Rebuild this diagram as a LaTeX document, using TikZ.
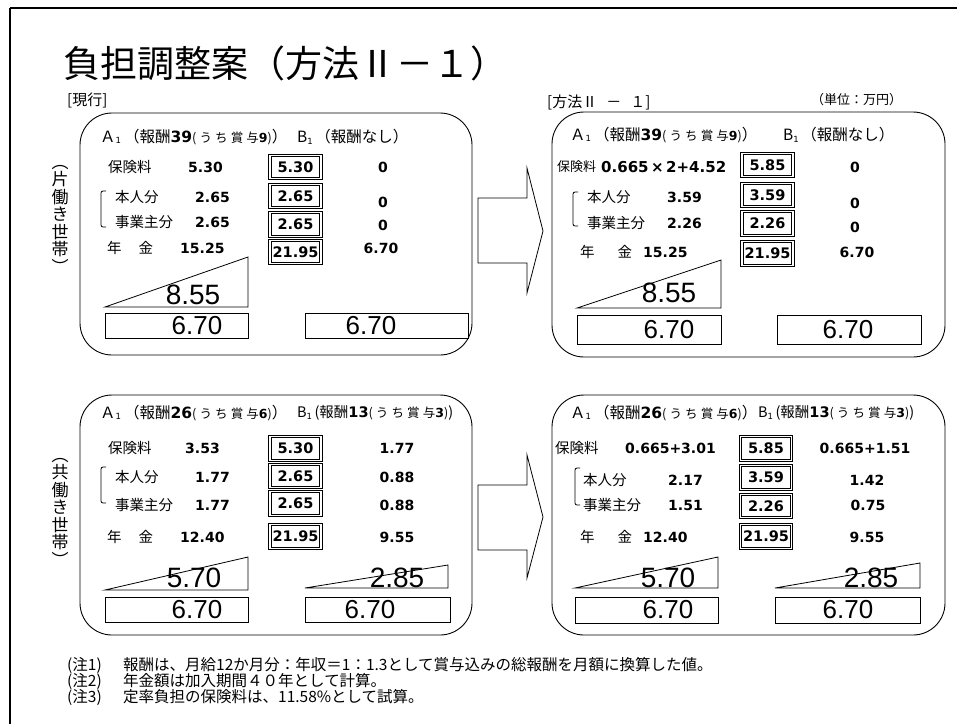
\documentclass[tikz,border=0pt]{standalone}
\usepackage{fontspec}
\setmainfont{Noto Sans CJK JP}
\newfontfamily\numfont{DejaVu Sans}
\newfontfamily\bigfont{Liberation Sans}
\newfontfamily\widefont[LetterSpace=25]{Noto Sans CJK JP}

% column headings of a panel
\newcommand{\bnum}[1]{{\numfont\bfseries #1}}
\newcommand{\subone}{\raisebox{-1.5pt}{\fontsize{8.5}{8.5}\selectfont\numfont 1}}
\newcommand{\pay}[2]{報酬\bnum{#1}{\fontsize{12.5}{12.5}\widefont (うち賞与\bnum{#2})}}
\newcommand{\headA}[2]{Ａ\subone\hspace{3pt}（\pay{#1}{#2}）}
\newcommand{\headB}[1]{B\subone\,（#1）}
\newcommand{\headBB}[1]{B\subone\,(#1)}

\begin{document}
\begin{tikzpicture}[
            x=1pt, y=-1pt,
            panel/.style={
                draw=black,
                line width=0.9pt,
                rounded corners=32pt,
                inner sep=0pt
            },
            heading/.style={
                inner sep=0pt,
                anchor=west,
                font=\fontsize{15.5}{17}\selectfont
            },
            rowlbl/.style={
                inner sep=0pt,
                anchor=west,
                font=\fontsize{14.5}{16}\selectfont
            },
            val/.style={
                inner sep=0pt,
                anchor=west,
                font=\fontsize{14}{16}\numfont\bfseries
            },
            bval/.style={
                inner sep=0pt,
                font=\fontsize{14}{16}\numfont\bfseries
            },
            valbox/.style={
                draw=black,
                double,
                double distance=1.2pt,
                line width=1.1pt,
                minimum width=51pt,
                minimum height=23.5pt,
                inner sep=0pt,
                font=\fontsize{14.5}{16}\numfont\bfseries
            },
            sumbox/.style={draw=black, line width=0.8pt, inner sep=0pt},
            bignum/.style={inner sep=0pt, font=\fontsize{28}{28}\bigfont},
            sumnum/.style={inner sep=0pt, font=\fontsize{26}{26}\bigfont},
            wedge/.style={draw=black, line width=0.8pt},
            bkt/.style={line width=0.8pt, rounded corners=2pt},
            blockarrow/.style={draw=black, line width=0.8pt},
            sidelbl/.style={inner sep=0pt, align=center, font=\fontsize{17}{17.5}\selectfont},
            note/.style={inner sep=0pt, anchor=west, font=\fontsize{15.5}{17}\selectfont}
        ]
        \useasboundingbox (0,0) rectangle (957,724);

        % page frame
        \draw[line width=2pt] (10,724) -- (10,8);
        \draw[line width=1.2pt] (10,8) -- (957,8);

        % title and captions
        \node[heading, font=\fontsize{37}{40}\selectfont] (ttl) at (63,63) {負担調整案（方法Ⅱ－１）};
        \node[heading, font=\fontsize{15}{16}\selectfont] (now) at (67,100) {[現行]};
        \node[heading, font=\fontsize{15}{16}\selectfont] (plan) at (547,102) {[方法Ⅱ\hspace{9pt}－\hspace{9pt}１]};
        \node[heading, font=\fontsize{13}{15}\selectfont] (unit) at (811,100) {（単位：万円）};

        % side labels
        \node[sidelbl] (side1) at (60,219) {︵\\片\\働\\き\\世\\帯\\︶};
        \node[sidelbl] (side2) at (60,512) {︵\\共\\働\\き\\世\\帯\\︶};

        % panels
        \node[panel, minimum width=392pt, minimum height=242pt] (cur1) at (276,234) {};
        \node[panel, minimum width=393pt, minimum height=245pt] (new1) at (748.5,234.5) {};
        \node[panel, minimum width=392pt, minimum height=240pt] (cur2) at (276,515) {};
        \node[panel, minimum width=393pt, minimum height=240pt] (new2) at (748.5,515) {};

        % block arrows
        \draw[blockarrow] (478,198) -- (527,198) -- (527,168) -- (543,231)
            -- (527,293) -- (527,263) -- (478,263) -- cycle;
        \draw[blockarrow] (478,485) -- (527,485) -- (527,455) -- (543,517)
            -- (527,578) -- (527,550) -- (478,550) -- cycle;

        % top left: current, single earner
        \node[heading] (cur1-ha) at (100,137) {\headA{39}{9}};
        \node[heading] (cur1-hb) at (297,137) {\headB{報酬なし}};
        \node[rowlbl] (cur1-l1) at (108,167) {保険料};
        \node[val] (cur1-a1) at (188,167) {5.30};
        \node[rowlbl] (cur1-l2) at (115,197) {本人分};
        \node[val] (cur1-a2) at (195,197) {2.65};
        \node[rowlbl] (cur1-l3) at (115,222) {事業主分};
        \node[val] (cur1-a3) at (195,222) {2.65};
        \node[rowlbl] (cur1-l4) at (107,248) {年\hspace{17pt}金};
        \node[val] (cur1-a4) at (180,248) {15.25};
        \node[valbox] (cur1-v1) at (295.5,167) {5.30};
        \node[valbox] (cur1-v2) at (295.5,196) {2.65};
        \node[valbox] (cur1-v3) at (295.5,224.5) {2.65};
        \node[valbox] (cur1-v4) at (295.5,252) {21.95};
        \node[bval] (cur1-b1) at (383,167) {0};
        \node[bval] (cur1-b2) at (383,202) {0};
        \node[bval] (cur1-b3) at (383,225) {0};
        \node[bval] (cur1-b4) at (381,248) {6.70};
        \draw[bkt] (106,191) -- (101,191) -- (101,227) -- (106,227);
        \draw[wedge] (105,307) -- (248,307) -- (248,257) -- cycle;
        \node[bignum] (cur1-t) at (193,295) {8.55};
        \node[sumbox, minimum width=143pt, minimum height=25pt] (cur1-sa) at (176.5,325.5) {};
        \node[sumnum] (cur1-na) at (197,326) {6.70};
        \node[sumbox, minimum width=163pt, minimum height=25pt] (cur1-sb) at (386.5,325.5) {};
        \node[sumnum] (cur1-nb) at (371,326) {6.70};

        % top right: plan II-1, single earner
        \node[heading] (new1-ha) at (570,135) {\headA{39}{9}};
        \node[heading] (new1-hb) at (783,135) {\headB{報酬なし}};
        \node[rowlbl, font=\fontsize{13}{15}\selectfont] (new1-l1) at (557,167) {保険料};
        \node[val, font=\fontsize{15}{16}\numfont\bfseries] (new1-a1) at (601,167) {0.665\,×\,2+4.52};
        \node[rowlbl] (new1-l2) at (587,197) {本人分};
        \node[val] (new1-a2) at (667,197) {3.59};
        \node[rowlbl] (new1-l3) at (587,223) {事業主分};
        \node[val] (new1-a3) at (667,223) {2.26};
        \node[rowlbl] (new1-l4) at (580,252) {年\hspace{23pt}金};
        \node[val] (new1-a4) at (643,252) {15.25};
        \node[valbox] (new1-v1) at (767.5,165) {5.85};
        \node[valbox] (new1-v2) at (767.5,195) {3.59};
        \node[valbox] (new1-v3) at (767.5,223.5) {2.26};
        \node[valbox] (new1-v4) at (767.5,253.5) {21.95};
        \node[bval] (new1-b1) at (855,167) {0};
        \node[bval] (new1-b2) at (855,203) {0};
        \node[bval] (new1-b3) at (855,227) {0};
        \node[bval] (new1-b4) at (857,252) {6.70};
        \draw[bkt] (578,192) -- (573,192) -- (573,226) -- (578,226);
        \draw[wedge] (577,308) -- (721,308) -- (721,260) -- cycle;
        \node[bignum] (new1-t) at (669,293) {8.55};
        \node[sumbox, minimum width=144pt, minimum height=29pt] (new1-sa) at (649,330) {};
        \node[sumnum] (new1-na) at (669,330) {6.70};
        \node[sumbox, minimum width=144pt, minimum height=29pt] (new1-sb) at (849,330) {};
        \node[sumnum] (new1-nb) at (848,330) {6.70};

        % bottom left: current, dual earners
        \node[heading] (cur2-ha) at (100,413) {\headA{26}{6}};
        \node[heading, font=\fontsize{14.5}{16}\selectfont] (cur2-hb) at (297,413) {\headBB{\pay{13}{3}}};
        \node[rowlbl] (cur2-l1) at (108,448) {保険料};
        \node[val] (cur2-a1) at (185,448) {3.53};
        \node[rowlbl] (cur2-l2) at (115,477) {本人分};
        \node[val] (cur2-a2) at (195,477) {1.77};
        \node[rowlbl] (cur2-l3) at (115,505) {事業主分};
        \node[val] (cur2-a3) at (195,505) {1.77};
        \node[rowlbl] (cur2-l4) at (107,537) {年\hspace{17pt}金};
        \node[val] (cur2-a4) at (180,537) {12.40};
        \node[valbox] (cur2-v1) at (295.5,448.5) {5.30};
        \node[valbox] (cur2-v2) at (295.5,476) {2.65};
        \node[valbox] (cur2-v3) at (295.5,503.5) {2.65};
        \node[valbox] (cur2-v4) at (295.5,536.5) {21.95};
        \node[bval] (cur2-b1) at (397,448) {1.77};
        \node[bval] (cur2-b2) at (397,477) {0.88};
        \node[bval] (cur2-b3) at (397,505) {0.88};
        \node[bval] (cur2-b4) at (397,537) {9.55};
        \draw[bkt] (106,467) -- (101,467) -- (101,503) -- (106,503);
        \draw[wedge] (105,590) -- (248,590) -- (248,557) -- cycle;
        \node[bignum] (cur2-ta) at (194,578) {5.70};
        \draw[wedge] (305,588) -- (448,588) -- (448,565) -- cycle;
        \node[bignum] (cur2-tb) at (397,578) {2.85};
        \node[sumbox, minimum width=143pt, minimum height=25pt] (cur2-sa) at (176.5,609.5) {};
        \node[sumnum] (cur2-na) at (197,610) {6.70};
        \node[sumbox, minimum width=145pt, minimum height=25pt] (cur2-sb) at (377.5,609.5) {};
        \node[sumnum] (cur2-nb) at (370,610) {6.70};

        % bottom right: plan II-1, dual earners
        \node[heading] (new2-ha) at (570,413) {\headA{26}{6}};
        \node[heading, font=\fontsize{14.5}{16}\selectfont] (new2-hb) at (758,413) {\headBB{\pay{13}{3}}};
        \node[rowlbl] (new2-l1) at (555,448) {保険料};
        \node[val] (new2-a1) at (625,448) {0.665+3.01};
        \node[rowlbl] (new2-l2) at (583,480) {本人分};
        \node[val] (new2-a2) at (668,480) {2.17};
        \node[rowlbl] (new2-l3) at (583,505) {事業主分};
        \node[val] (new2-a3) at (668,505) {1.51};
        \node[rowlbl] (new2-l4) at (580,537) {年\hspace{23pt}金};
        \node[val] (new2-a4) at (643,537) {12.40};
        \node[valbox] (new2-v1) at (766,448.5) {5.85};
        \node[valbox] (new2-v2) at (766,477.5) {3.59};
        \node[valbox] (new2-v3) at (766,506) {2.26};
        \node[valbox] (new2-v4) at (766,536.5) {21.95};
        \node[bval] (new2-b1) at (865,448) {0.665+1.51};
        \node[bval] (new2-b2) at (867,480) {1.42};
        \node[bval] (new2-b3) at (868,505) {0.75};
        \node[bval] (new2-b4) at (867,537) {9.55};
        \draw[bkt] (580,468) -- (575,468) -- (575,505) -- (580,505);
        \draw[wedge] (575,588) -- (718,588) -- (718,557) -- cycle;
        \node[bignum] (new2-ta) at (668,578) {5.70};
        \draw[wedge] (775,588) -- (920,588) -- (920,563) -- cycle;
        \node[bignum] (new2-tb) at (871,578) {2.85};
        \node[sumbox, minimum width=143pt, minimum height=26pt] (new2-sa) at (646.5,610) {};
        \node[sumnum] (new2-na) at (668,610) {6.70};
        \node[sumbox, minimum width=145pt, minimum height=26pt] (new2-sb) at (847.5,610) {};
        \node[sumnum] (new2-nb) at (848,610) {6.70};

        % notes
        \node[note] (n1) at (67,665) {(注1)};
        \node[note] (t1) at (123,665) {報酬は、月給12か月分：年収＝1：1.3として賞与込みの総報酬を月額に換算した値。};
        \node[note] (n2) at (67,681) {(注2)};
        \node[note] (t2) at (123,681) {年金額は加入期間４０年として計算。};
        \node[note] (n3) at (67,697) {(注3)};
        \node[note] (t3) at (123,697) {定率負担の保険料は、11.58\%として試算。};

        \end{tikzpicture}
\end{document}
